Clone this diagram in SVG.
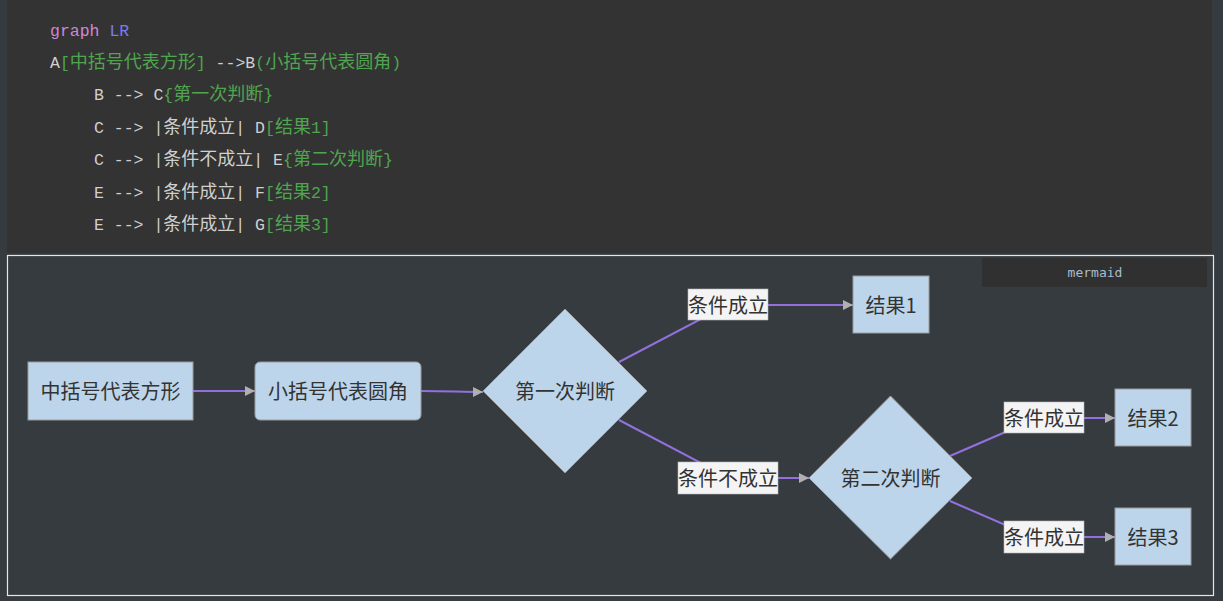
<svg xmlns="http://www.w3.org/2000/svg" width="1223" height="601" viewBox="0 0 1223 601">
<defs>
<style>
.code{font-family:"Liberation Mono","DejaVu Sans Mono","Noto Sans CJK SC",monospace;font-size:16.5px;fill:#d0d0d0}
.cj{font-family:"Noto Sans CJK SC",sans-serif;font-size:18px}
.kw{fill:#cf86d6}
.lr{fill:#7b7bef}
.g{fill:#4fa54f}
.node{fill:#bdd5ea;stroke:#9a9a9a;stroke-width:1}
.nt{font-family:"Noto Sans CJK SC","Liberation Sans",sans-serif;font-size:20px;fill:#333333;text-anchor:middle;dominant-baseline:central}
.edge{fill:none;stroke:#9370db;stroke-width:2}
.lb{fill:#f4f4f4;stroke:#b8b8b8;stroke-width:0.6}
</style>
<marker id="arrow" viewBox="0 0 10 10" refX="10" refY="5" markerWidth="10" markerHeight="11" markerUnits="userSpaceOnUse" orient="auto">
<path d="M0,0 L10,5 L0,10 Z" fill="#b0b0b0"/>
</marker>
</defs>
<rect width="1223" height="601" fill="#363b40"/>
<rect x="7" y="0" width="1205" height="253" fill="#333333"/>
<g id="code">
<text class="code" x="50" y="36"><tspan class="kw">graph</tspan> <tspan class="lr">LR</tspan></text>
<text class="code" x="50" y="68">A<tspan class="g">[<tspan class="cj">中括号代表方形</tspan>]</tspan> --&gt;B<tspan class="g">(<tspan class="cj">小括号代表圆角</tspan>)</tspan></text>
<text class="code" x="94" y="100">B --&gt; C<tspan class="g">{<tspan class="cj">第一次判断</tspan>}</tspan></text>
<text class="code" x="94" y="133">C --&gt; |<tspan class="cj">条件成立</tspan>| D<tspan class="g">[<tspan class="cj">结果</tspan>1]</tspan></text>
<text class="code" x="94" y="165">C --&gt; |<tspan class="cj">条件不成立</tspan>| E<tspan class="g">{<tspan class="cj">第二次判断</tspan>}</tspan></text>
<text class="code" x="94" y="198">E --&gt; |<tspan class="cj">条件成立</tspan>| F<tspan class="g">[<tspan class="cj">结果</tspan>2]</tspan></text>
<text class="code" x="94" y="230">E --&gt; |<tspan class="cj">条件成立</tspan>| G<tspan class="g">[<tspan class="cj">结果</tspan>3]</tspan></text>
</g>
<rect x="7.5" y="255.5" width="1206" height="340" fill="none" stroke="#e6e6e6" stroke-width="1.2"/>
<g id="mermaid-tag">
<rect x="982" y="258" width="225" height="29" fill="#303030"/>
<text x="1095" y="277" font-family="'DejaVu Sans Mono','Liberation Mono',monospace" font-size="13" fill="#a9bccf" text-anchor="middle">mermaid</text>
</g>
<g id="connectors">
<path class="edge" d="M193,391 L255,391" marker-end="url(#arrow)"/>
<path class="edge" d="M421,391 C450,391 460,392 483,392" marker-end="url(#arrow)"/>
<path class="edge" d="M619,362 L703,318 Q716,305 740,305 L853,305" marker-end="url(#arrow)"/>
<path class="edge" d="M619,420 L703,464 Q716,478 740,478 L809,478" marker-end="url(#arrow)"/>
<path class="edge" d="M950,456 L1010,430 Q1030,418 1050,418 L1115,418" marker-end="url(#arrow)"/>
<path class="edge" d="M950,501 L1010,527 Q1030,537 1050,537 L1115,537" marker-end="url(#arrow)"/>
<g id="label-cd"><rect class="lb" x="688" y="289" width="80" height="31"/><text class="nt" x="728" y="304">条件成立</text></g>
<g id="label-ce"><rect class="lb" x="678" y="462" width="100" height="32"/><text class="nt" x="728" y="477">条件不成立</text></g>
<g id="label-ef"><rect class="lb" x="1004" y="402" width="80" height="31"/><text class="nt" x="1044" y="417">条件成立</text></g>
<g id="label-eg"><rect class="lb" x="1004" y="521" width="80" height="32"/><text class="nt" x="1044" y="536">条件成立</text></g>
</g>
<g id="A"><rect class="node" x="28" y="362" width="165" height="58"/><text class="nt" x="110.5" y="390">中括号代表方形</text></g>
<g id="B"><rect class="node" x="255" y="362" width="166" height="58" rx="5" ry="5"/><text class="nt" x="338" y="390">小括号代表圆角</text></g>
<g id="C"><polygon class="node" points="565,309 647,391 565,473 483,391"/><text class="nt" x="565" y="390">第一次判断</text></g>
<g id="D"><rect class="node" x="853" y="276" width="76" height="57"/><text class="nt" x="891" y="304">结果1</text></g>
<g id="E"><polygon class="node" points="890.5,396 972,478 890.5,559 809,478"/><text class="nt" x="890.5" y="477">第二次判断</text></g>
<g id="F"><rect class="node" x="1115" y="389" width="76" height="57"/><text class="nt" x="1153" y="417">结果2</text></g>
<g id="G"><rect class="node" x="1115" y="508" width="76" height="57"/><text class="nt" x="1153" y="536">结果3</text></g>
</svg>
